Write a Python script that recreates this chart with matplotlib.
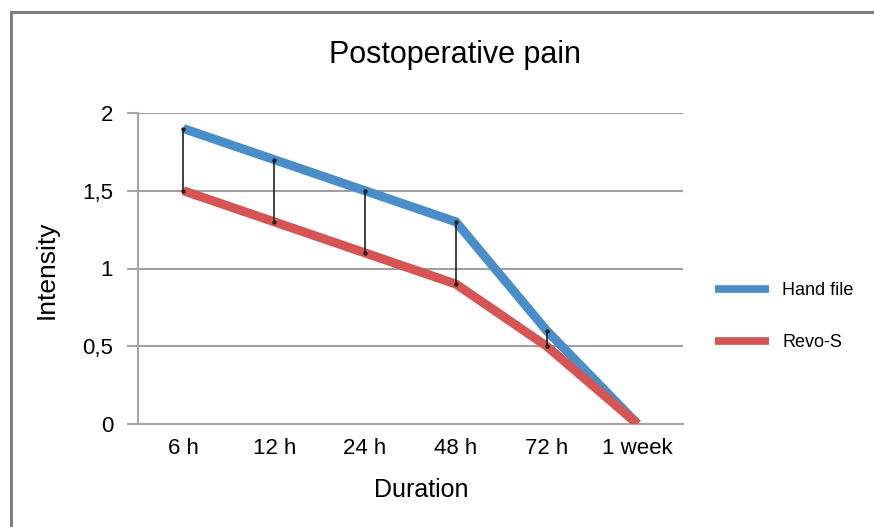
import matplotlib
matplotlib.use("Agg")
import matplotlib.pyplot as plt
from matplotlib.lines import Line2D

categories = ["6 h", "12 h", "24 h", "48 h", "72 h", "1 week"]
hand_file = [1.9, 1.7, 1.5, 1.3, 0.6, 0.0]
revo_s = [1.5, 1.3, 1.1, 0.9, 0.5, 0.0]
y_ticks = [0, 0.5, 1, 1.5, 2]
y_tick_labels = ["0", "0,5", "1", "1,5", "2"]

plt.rcParams['font.family'] = ['Liberation Sans', 'DejaVu Sans']

W, H = 874, 527
fig = plt.figure(figsize=(W/100, H/100), dpi=100)
fig.patch.set_facecolor("white")

# outer frame (left and top edges visible)
fig.add_artist(Line2D([11/W, 11/W], [0, 1-12/H], transform=fig.transFigure, color="#808080", linewidth=2.2))
fig.add_artist(Line2D([11/W, 1], [1-12/H, 1-12/H], transform=fig.transFigure, color="#808080", linewidth=2.2))

ax = fig.add_axes([138/W, 1-424/H, 545/W, 311/H])
x = list(range(len(categories)))

blue = "#4a8ec9"
red = "#d65454"
ax.plot(x, hand_file, color=blue, linewidth=6.5, solid_capstyle="butt", solid_joinstyle="miter", label="Hand file", zorder=3)
ax.plot(x, revo_s, color=red, linewidth=6.5, solid_capstyle="butt", solid_joinstyle="miter", label="Revo-S", zorder=4)

# high-low lines
for xi, h, r in zip(x, hand_file, revo_s):
    if h != r:
        ax.plot([xi, xi], [r, h], color="#222222", linewidth=1.2, zorder=5)
        ax.plot([xi, xi], [r, h], linestyle="none", marker="o", markersize=2.2, color="#222222", zorder=5)

ax.set_xlim(-0.5, 5.5)
ax.set_ylim(0, 2)
ax.set_yticks(y_ticks)
ax.set_yticklabels(y_tick_labels, fontsize=16)
ax.set_xticks(x)
ax.set_xticklabels(categories, fontsize=16)
ax.tick_params(axis="x", length=0, pad=10)
ax.tick_params(axis="y", length=8, width=1.5, color="#a6a6a6", pad=10, direction="out")

ax.grid(axis="y", color="#a0a0a0", linewidth=1.5, zorder=0)
ax.set_axisbelow(True)
for s in ["top", "right"]:
    ax.spines[s].set_visible(False)
ax.spines["left"].set_color("#a6a6a6")
ax.spines["left"].set_linewidth(1.5)
ax.spines["bottom"].set_color("#a6a6a6")
ax.spines["bottom"].set_linewidth(1.5)
ax.spines["bottom"].set_zorder(1)

ax.set_xlabel("Duration", fontsize=18)
ax.xaxis.set_label_coords((421-138)/545, (424-490)/311)
ax.xaxis.label.set_va("center")
ax.set_ylabel("Intensity", fontsize=19)
ax.yaxis.set_label_coords((47-138)/545, (424-270)/311)
ax.yaxis.label.set_va("center")

fig.text(455/W, 1-55/H, "Postoperative pain", fontsize=22, ha="center", va="center")

leg = ax.legend(loc="center left", bbox_to_anchor=((699-138)/545, (424-316.5)/311), frameon=False,
                fontsize=13, handlelength=3.0, labelspacing=1.95, handletextpad=0.7)
for ln in leg.get_lines():
    ln.set_linewidth(5.5)

fig.savefig("out.png", dpi=100, facecolor="white")
